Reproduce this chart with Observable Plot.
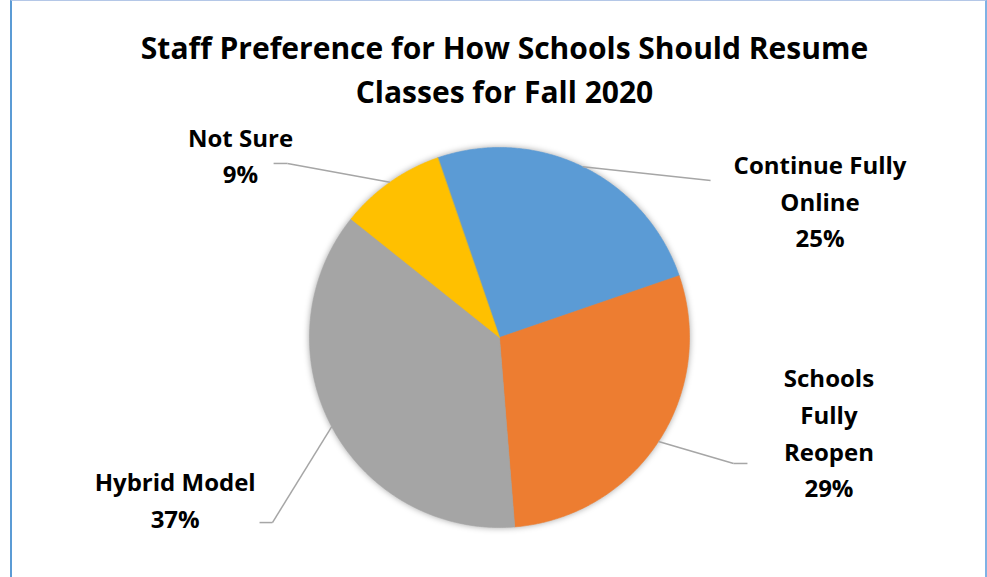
<!DOCTYPE html>
<html><head><meta charset="utf-8">
<script src="https://cdn.jsdelivr.net/npm/d3@7"></script>
<script src="https://cdn.jsdelivr.net/npm/@observablehq/plot@0.6"></script>
<style>
html,body{margin:0;padding:0;background:#fff;}
body{width:987px;height:577px;position:relative;overflow:hidden;font-family:"Open Sans",Lato,sans-serif;}
#frame{position:absolute;left:10px;top:0;width:977px;height:577px;box-sizing:border-box;border-left:2px solid #5B9BD5;border-right:2px solid #7FB2E5;border-top:1px solid #B4C7E7;}
#title{position:absolute;left:0;top:0;width:987px;padding-left:22px;padding-top:26px;box-sizing:border-box;text-align:center;font-weight:700;font-size:30px;line-height:44px;color:#000;}
#chart{position:absolute;left:0;top:118px;}
#chart g[aria-label="line"]{filter:drop-shadow(0 0 3px rgba(0,0,0,0.35));}
</style></head><body>
<div id="frame"></div>
<div id="title">Staff Preference for How Schools Should Resume<br>Classes for Fall 2020</div>
<div id="chart"></div>
<script>
// ---- data ----
const categories = ["Continue Fully Online", "Schools Fully Reopen", "Hybrid Model", "Not Sure"];
const labelTexts = ["Continue Fully\nOnline", "Schools\nFully\nReopen", "Hybrid Model", "Not Sure"];
const shares = [25, 29, 37, 9];
const colors = ["#5B9BD5", "#ED7D31", "#A5A5A5", "#FFC000"];
const startAngle = -19; // degrees, clockwise from 12 o'clock

// ---- layout (radius units, relative to pie centre) ----
const leaderBends = [
  [[1.111, 0.826]],
  [[1.232, -0.663], [1.305, -0.663]],
  [[-1.195, -0.974], [-1.263, -0.974]],
  [[-1.116, 0.916], [-1.189, 0.916]]
];
const labelAnchors = [[1.687, 0.474], [1.734, -0.842], [-1.707, -1.002], [-1.363, 0.811]];

const total = d3.sum(shares);
let acc = 0;
const slices = categories.map((c, i) => {
  const a0 = startAngle + acc / total * 360;
  acc += shares[i];
  const a1 = startAngle + acc / total * 360;
  return {c, a0, a1, mid: (a0 + a1) / 2};
});
const rad = d => d * Math.PI / 180;
const pt = (a, r = 1) => [r * Math.sin(rad(a)), r * Math.cos(rad(a))];

const piePts = [];
slices.forEach(s => {
  piePts.push({c: s.c, x: 0, y: 0});
  const n = Math.ceil((s.a1 - s.a0) / 0.5);
  for (let k = 0; k <= n; k++) {
    const [x, y] = pt(s.a0 + (s.a1 - s.a0) * k / n);
    piePts.push({c: s.c, x, y});
  }
});
const segs = [];
slices.forEach((s, i) => {
  const pts = [pt(s.mid), ...leaderBends[i]];
  for (let k = 0; k < pts.length - 1; k++)
    segs.push({x1: pts[k][0], y1: pts[k][1], x2: pts[k + 1][0], y2: pts[k + 1][1]});
});
const labelData = slices.map((s, i) => ({x: labelAnchors[i][0], y: labelAnchors[i][1], t: labelTexts[i] + "\n" + shares[i] + "%"}));

const W = 987, H = 459, cx = 499, cy = 337 - 118, R = 190;
const chart = Plot.plot({
  width: W, height: H,
  marginLeft: cx - R, marginRight: W - cx - R, marginTop: cy - R, marginBottom: H - cy - R,
  x: {domain: [-1, 1], axis: null},
  y: {domain: [-1, 1], axis: null},
  color: {domain: categories, range: colors},
  style: {background: "transparent", overflow: "visible"},
  marks: [
    Plot.line(piePts, {x: "x", y: "y", z: "c", fill: "c", stroke: "c", strokeWidth: 0.6, curve: "linear-closed"}),
    Plot.link(segs, {x1: "x1", y1: "y1", x2: "x2", y2: "y2", stroke: "#A6A6A6", strokeWidth: 1.5}),
    Plot.text(labelData, {x: "x", y: "y", text: "t", lineAnchor: "bottom", lineHeight: 1.53, fontSize: 24, fontWeight: 700, fontFamily: "Open Sans", fill: "#000", textAnchor: "middle"})
  ]
});
document.getElementById("chart").appendChild(chart);
</script></body></html>
